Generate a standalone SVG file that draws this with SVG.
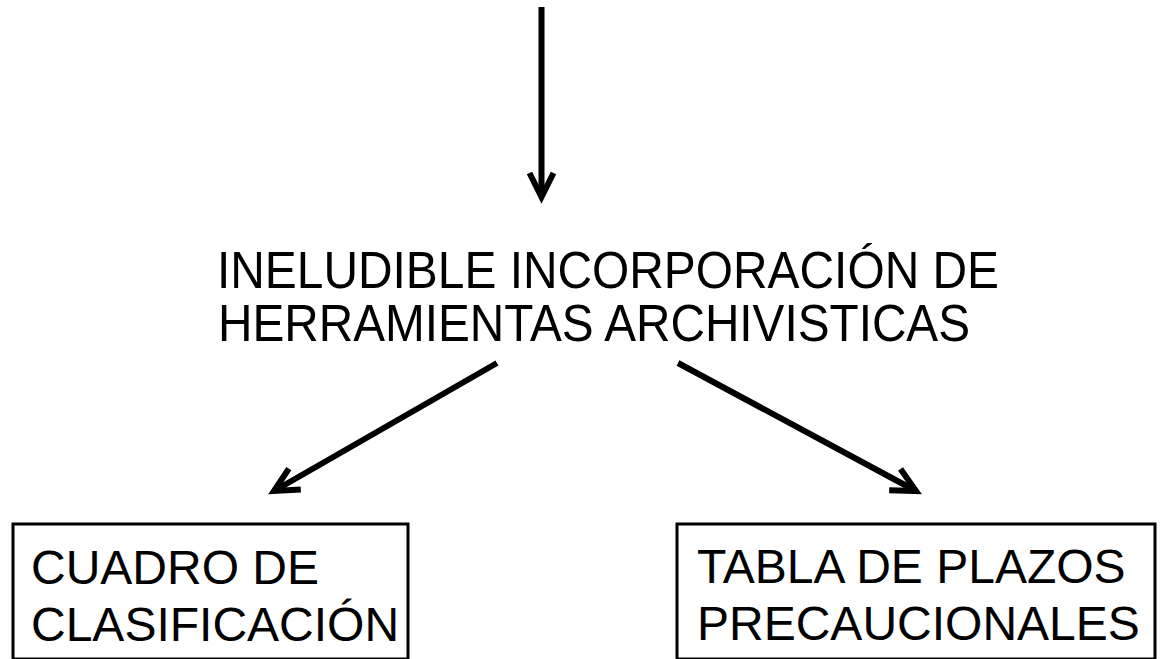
<svg xmlns="http://www.w3.org/2000/svg" width="1163" height="659" viewBox="0 0 1163 659">
<style>
.t{font-family:"Liberation Sans",Arial,sans-serif;fill:#000}
.title{font-size:52px}
.lbl{font-size:48px}
.box{fill:none;stroke:#000;stroke-width:3}
.conn{stroke:#000;stroke-width:6;fill:none}
</style>
<defs>
<marker id="ah" markerUnits="userSpaceOnUse" orient="auto" refX="0" refY="0" markerWidth="40" markerHeight="40" viewBox="-30 -20 40 40" overflow="visible">
<path d="M-24,-12 L0,0 L-24,12" fill="none" stroke="#000" stroke-width="6" stroke-linejoin="miter"/>
</marker>
</defs>
<rect width="1163" height="659" fill="#fff"/>
<g id="connectors">
<line class="conn" x1="541.5" y1="7" x2="541.5" y2="197" marker-end="url(#ah)"/>
<line class="conn" x1="497" y1="363" x2="274" y2="491" marker-end="url(#ah)"/>
<line class="conn" x1="678" y1="363" x2="916" y2="491" marker-end="url(#ah)"/>
</g>
<g id="title">
<text class="t title" x="217" y="288" textLength="782" lengthAdjust="spacingAndGlyphs">INELUDIBLE INCORPORACIÓN DE</text>
<text class="t title" x="218" y="341" textLength="752" lengthAdjust="spacingAndGlyphs">HERRAMIENTAS ARCHIVISTICAS</text>
</g>
<g id="cuadro">
<rect class="box" x="13" y="524" width="395" height="135"/>
<text class="t lbl" x="31" y="584">CUADRO DE</text>
<text class="t lbl" x="31" y="641">CLASIFICACIÓN</text>
</g>
<g id="tabla">
<rect class="box" x="677" y="524" width="478" height="135"/>
<text class="t lbl" x="697" y="583">TABLA DE PLAZOS</text>
<text class="t lbl" x="697" y="640">PRECAUCIONALES</text>
</g>
</svg>
